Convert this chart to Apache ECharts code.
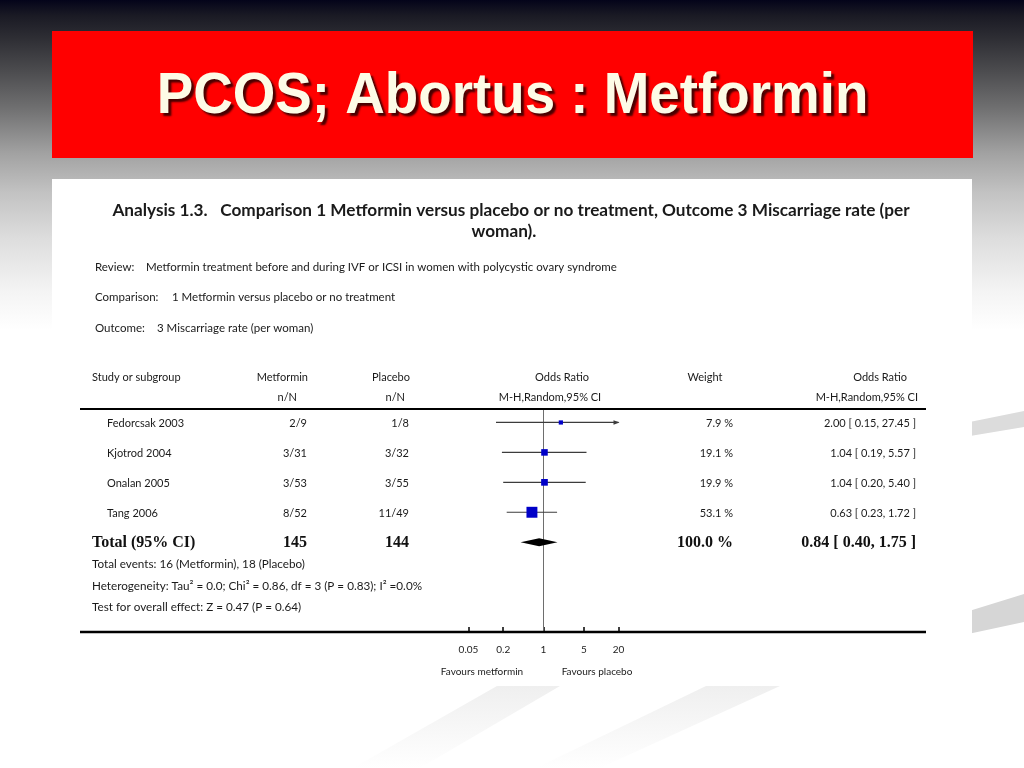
<!DOCTYPE html>
<html><head><meta charset="utf-8">
<script src="https://cdn.jsdelivr.net/npm/echarts@6/dist/echarts.min.js"></script>
<style>html,body{margin:0;padding:0;background:#fff}#c{width:1024px;height:768px;}</style>
</head><body><div id="c"></div>
<script>
// ---- data ----
const studies = ['Fedorcsak 2003', 'Kjotrod 2004', 'Onalan 2005', 'Tang 2006'];
const metforminEvents = ['2/9', '3/31', '3/53', '8/52'];
const placeboEvents = ['1/8', '3/32', '3/55', '11/49'];
const oddsRatio = [2.00, 1.04, 1.04, 0.63];
const ciLower = [0.15, 0.19, 0.20, 0.23];
const ciUpper = [27.45, 5.57, 5.40, 1.72];
const weightPct = [7.9, 19.1, 19.9, 53.1];
const totalMetformin = 145;
const totalPlacebo = 144;
const totalOR = [0.84];
const totalLower = [0.40];
const totalUpper = [1.75];
const totalWeight = [100.0];
const axisTickValues = [0.05, 0.2, 1, 5, 20];
const axisMin = 0.05, axisMax = 20;

const SANS = 'Lato, "Open Sans", sans-serif';
const SERIF = '"Liberation Serif", "DejaVu Serif", serif';

const chart = echarts.init(document.getElementById('c'), null, {renderer: 'canvas'});

function fmtCI(or, lo, hi) {
  return or.toFixed(2) + ' [ ' + lo.toFixed(2) + ', ' + hi.toFixed(2) + ' ]';
}
function T(x, y, text, opt) {
  opt = opt || {};
  return {
    type: 'text', x: x, y: y, z: 20,
    style: {
      text: text,
      font: opt.font || ('11px ' + SANS),
      fill: opt.color || '#1a1a1a',
      align: opt.align || 'left',
      verticalAlign: 'middle'
    }
  };
}

const fade = () => new echarts.graphic.LinearGradient(0, 0, 0, 1, [{offset: 0, color: '#efefef'}, {offset: 1, color: '#ffffff'}]);
const backgroundEls = [
  {type: 'rect', z: -30, shape: {x: 0, y: 0, width: 1024, height: 768},
   style: {fill: new echarts.graphic.LinearGradient(0, 0, 0, 1, [
     {offset: 0, color: '#04041a'}, {offset: 0.02, color: '#1a1a24'},
     {offset: 0.05, color: '#2e2e34'}, {offset: 0.09, color: '#4a4a4d'},
     {offset: 0.14, color: '#6f6f70'}, {offset: 0.2, color: '#a2a2a2'},
     {offset: 0.25, color: '#c2c2c2'}, {offset: 0.31, color: '#dddddd'},
     {offset: 0.38, color: '#f4f4f4'}, {offset: 0.43, color: '#ffffff'},
     {offset: 1, color: '#ffffff'}])}},
  {type: 'polygon', z: -25, shape: {points: [[940, 428], [1024, 411], [1024, 427], [940, 441]]}, style: {fill: '#dcdcdc'}},
  {type: 'polygon', z: -25, shape: {points: [[940, 620], [1024, 594], [1024, 622], [940, 640]]}, style: {fill: '#d6d6d6'}},
  {type: 'polygon', z: -25, shape: {points: [[497, 686], [560, 686], [420, 768], [353, 768]]}, style: {fill: fade()}},
  {type: 'polygon', z: -25, shape: {points: [[706, 686], [780, 686], [600, 768], [536, 768]]}, style: {fill: fade()}},
  {type: 'rect', z: -20, shape: {x: 52, y: 31, width: 921, height: 127}, style: {fill: '#ff0000'}},
  {type: 'rect', z: -20, shape: {x: 52, y: 179, width: 920, height: 506}, style: {fill: '#ffffff'}},
  {type: 'line', z: 5, shape: {x1: 80, y1: 409, x2: 926, y2: 409}, style: {stroke: '#000', lineWidth: 2}},
  {type: 'line', z: 5, shape: {x1: 80, y1: 632, x2: 926, y2: 632}, style: {stroke: '#000', lineWidth: 2.5}},
  {type: 'text', z: 25, x: 512.5, y: 97, scaleX: 0.944,
   style: {text: 'PCOS; Abortus : Metformin', font: 'bold 58px "Liberation Sans", Arial, sans-serif',
     fill: '#fdfbe6', align: 'center', verticalAlign: 'middle',
     textShadowColor: 'rgba(40,0,0,0.85)', textShadowOffsetX: 3, textShadowOffsetY: 3, textShadowBlur: 2}}
];

const studyData = studies.map((s, i) => [ciLower[i], ciUpper[i], oddsRatio[i], i, weightPct[i]]);
const totalData = totalOR.map((v, i) => [totalLower[i], totalUpper[i], v, studies.length]);

const option = {
  animation: false,
  grid: {left: 468.5, width: 150, top: 409, height: 223, containLabel: false},
  xAxis: {
    type: 'log', logBase: 10, min: axisMin, max: axisMax, position: 'bottom',
    axisLine: {show: false, onZero: false},
    axisTick: {show: true, inside: true, length: 5, customValues: axisTickValues, lineStyle: {color: '#000', width: 1.5}},
    axisLabel: {customValues: axisTickValues, margin: 13, fontSize: 10, fontFamily: SANS, color: '#222',
      formatter: v => String(parseFloat(Number(v).toPrecision(3)))},
    splitLine: {show: false}
  },
  yAxis: {type: 'value', inverse: true, min: -0.45, max: 7, show: false},
  series: [
    {
      name: 'null line', type: 'line', data: [[1, -0.45], [1, 7]], symbol: 'none', silent: true, z: 1,
      lineStyle: {color: '#6e6e6e', width: 1}
    },
    {
      name: 'studies', type: 'custom', clip: false, z: 3, data: studyData,
      encode: {x: [0, 1, 2], y: 3},
      renderItem: function (params, api) {
        const lo = api.value(0), hi = api.value(1), or = api.value(2), row = api.value(3), w = api.value(4);
        const pL = api.coord([Math.max(lo, axisMin), row]);
        const pR = api.coord([Math.min(hi, axisMax), row]);
        const pC = api.coord([or, row]);
        const s = 1.5 * Math.sqrt(w);
        const children = [{type: 'line', shape: {x1: pL[0], y1: pL[1], x2: pR[0], y2: pR[1]}, style: {stroke: '#3c3c3c', lineWidth: 1.2}}];
        if (hi > axisMax) children.push({type: 'polygon', shape: {points: [[pR[0] + 1, pR[1]], [pR[0] - 5, pR[1] - 2.2], [pR[0] - 5, pR[1] + 2.2]]}, style: {fill: '#3c3c3c'}});
        if (lo < axisMin) children.push({type: 'polygon', shape: {points: [[pL[0] - 1, pL[1]], [pL[0] + 5, pL[1] - 2.2], [pL[0] + 5, pL[1] + 2.2]]}, style: {fill: '#3c3c3c'}});
        children.push({type: 'rect', shape: {x: pC[0] - s / 2, y: pC[1] - s / 2, width: s, height: s}, style: {fill: '#0000c8'}});
        return {type: 'group', children: children};
      }
    },
    {
      name: 'total', type: 'custom', clip: false, z: 3, data: totalData,
      encode: {x: [0, 1, 2], y: 3},
      renderItem: function (params, api) {
        const row = api.value(3);
        const pL = api.coord([api.value(0), row]);
        const pR = api.coord([api.value(1), row]);
        const pC = api.coord([api.value(2), row]);
        return {type: 'polygon', shape: {points: [[pL[0], pL[1]], [pC[0], pC[1] - 4], [pR[0], pR[1]], [pC[0], pC[1] + 4]]}, style: {fill: '#000'}};
      }
    }
  ],
  graphic: backgroundEls
};
chart.setOption(option);

// ---- table text, rows aligned to the plot's y axis ----
const rowY = i => chart.convertToPixel({yAxisIndex: 0}, i);
const hdr = 'bold 17.2px ' + SANS;
const mid = '11.5px ' + SANS;
const foot = '11.7px ' + SANS;
const texts = [
  T(511, 210, 'Analysis 1.3.   Comparison 1 Metformin versus placebo or no treatment, Outcome 3 Miscarriage rate (per', {font: hdr, align: 'center'}),
  T(504, 231, 'woman).', {font: hdr, align: 'center'}),
  T(95, 267, 'Review:', {font: mid}), T(146, 267, 'Metformin treatment before and during IVF or ICSI in women with polycystic ovary syndrome', {font: mid}),
  T(95, 297, 'Comparison:', {font: mid}), T(172, 297, '1 Metformin versus placebo or no treatment', {font: mid}),
  T(95, 328, 'Outcome:', {font: mid}), T(157, 328, '3 Miscarriage rate (per woman)', {font: mid}),
  T(92, 377, 'Study or subgroup'),
  T(308, 377, 'Metformin', {align: 'right'}),
  T(410, 377, 'Placebo', {align: 'right'}),
  T(562, 377, 'Odds Ratio', {align: 'center'}),
  T(705, 377, 'Weight', {align: 'center'}),
  T(907, 377, 'Odds Ratio', {align: 'right'}),
  T(297, 397, 'n/N', {align: 'right'}),
  T(405, 397, 'n/N', {align: 'right'}),
  T(550, 397, 'M-H,Random,95% CI', {align: 'center'}),
  T(918, 397, 'M-H,Random,95% CI', {align: 'right'})
];
studies.forEach((s, i) => {
  const y = rowY(i) + 1;
  texts.push(T(107, y, s));
  texts.push(T(307, y, metforminEvents[i], {align: 'right'}));
  texts.push(T(409, y, placeboEvents[i], {align: 'right'}));
  texts.push(T(733, y, weightPct[i].toFixed(1) + ' %', {align: 'right'}));
  texts.push(T(916, y, fmtCI(oddsRatio[i], ciLower[i], ciUpper[i]), {align: 'right'}));
});
const ty = rowY(studies.length) + 1;
const bold = 'bold 16px ' + SERIF;
texts.push(T(92, ty, 'Total (95% CI)', {font: bold, color: '#111'}));
texts.push(T(307, ty, String(totalMetformin), {font: bold, align: 'right', color: '#111'}));
texts.push(T(409, ty, String(totalPlacebo), {font: bold, align: 'right', color: '#111'}));
texts.push(T(733, ty, totalWeight[0].toFixed(1) + ' %', {font: bold, align: 'right', color: '#111'}));
texts.push(T(916, ty, fmtCI(totalOR[0], totalLower[0], totalUpper[0]), {font: bold, align: 'right', color: '#111'}));
texts.push(T(92, 564, 'Total events: 16 (Metformin), 18 (Placebo)', {font: foot}));
texts.push(T(92, 586, 'Heterogeneity: Tau\u00B2 = 0.0; Chi\u00B2 = 0.86, df = 3 (P = 0.83); I\u00B2 =0.0%', {font: foot}));
texts.push(T(92, 607, 'Test for overall effect: Z = 0.47 (P = 0.64)', {font: foot}));
texts.push(T(482, 672, 'Favours metformin', {font: '10px ' + SANS, align: 'center'}));
texts.push(T(597, 672, 'Favours placebo', {font: '10px ' + SANS, align: 'center'}));

chart.setOption({graphic: backgroundEls.concat(texts)});
</script>
</body></html>
